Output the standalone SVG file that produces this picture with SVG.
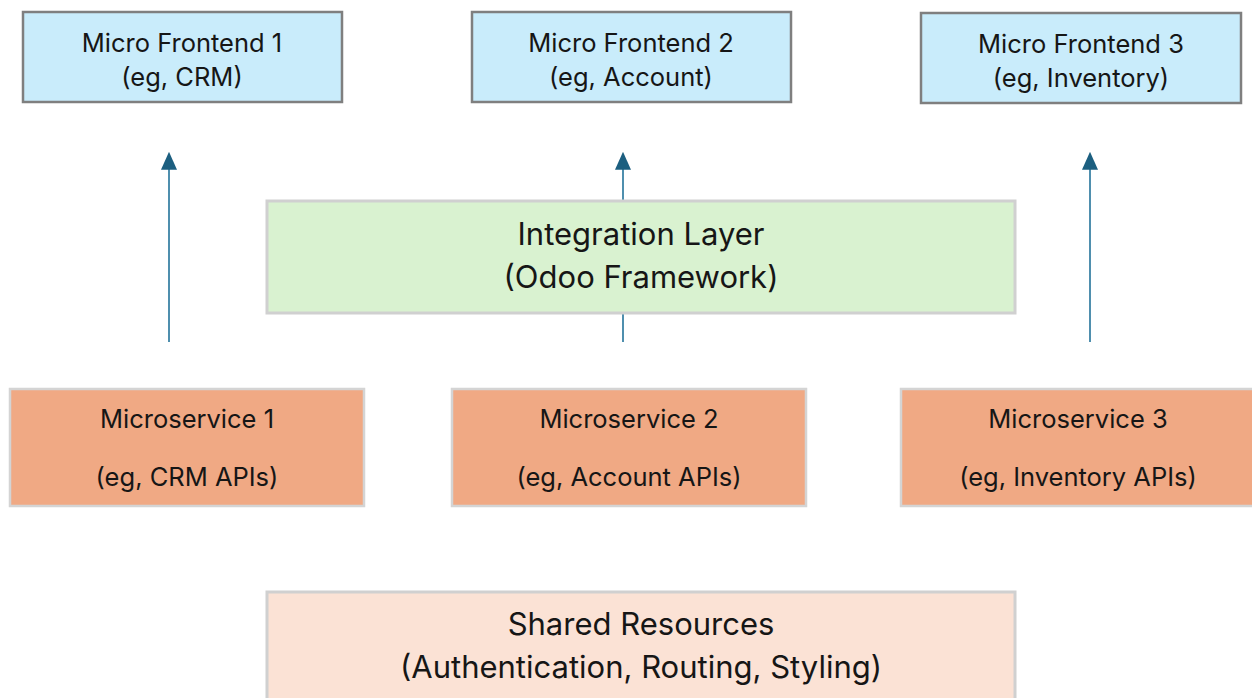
<svg xmlns="http://www.w3.org/2000/svg" width="1252" height="698" viewBox="0 0 1252 698">
<defs>
<marker id="ah" viewBox="0 0 10 10" refX="1" refY="5" markerWidth="18" markerHeight="16" markerUnits="userSpaceOnUse" orient="auto" preserveAspectRatio="none">
<path d="M0,0 L10,5 L0,10 Z" fill="#1c5f80"/>
</marker>
<style>
.fe{fill:#c9ecfb;stroke:#7f7f7f;stroke-width:2.5}
.ms{fill:#f0a984;stroke:#d4d4d4;stroke-width:2.5}
.il{fill:#d9f2d0;stroke:#d0d0d0;stroke-width:3}
.sr{fill:#fbe2d5;stroke:#d0d0d0;stroke-width:3}
.t{font-family:Inter,"Liberation Sans",sans-serif;fill:#161616;text-anchor:middle}
.s{font-size:25.5px}
.l{font-size:31px}
.c{stroke:#4f8fae;stroke-width:2;fill:none}
</style>
</defs>
<rect width="1252" height="698" fill="#fff"/>
<g id="connectors">
<line class="c" x1="169" y1="342" x2="169" y2="168" marker-end="url(#ah)"/>
<line class="c" x1="623" y1="342" x2="623" y2="168" marker-end="url(#ah)"/>
<line class="c" x1="1090" y1="342" x2="1090" y2="168" marker-end="url(#ah)"/>
</g>
<g id="fe1"><rect class="fe" x="23" y="12" width="319" height="90"/>
<text class="t s" x="182" y="52">Micro Frontend 1</text><text class="t s" x="182" y="86">(eg, CRM)</text></g>
<g id="fe2"><rect class="fe" x="472" y="12" width="319" height="90"/>
<text class="t s" x="631" y="52">Micro Frontend 2</text><text class="t s" x="631" y="86">(eg, Account)</text></g>
<g id="fe3"><rect class="fe" x="921" y="13" width="320" height="90"/>
<text class="t s" x="1081" y="53">Micro Frontend 3</text><text class="t s" x="1081" y="87">(eg, Inventory)</text></g>
<g id="integration"><rect class="il" x="267" y="201" width="748" height="112"/>
<text class="t l" x="641" y="245">Integration Layer</text><text class="t l" x="641" y="288">(Odoo Framework)</text></g>
<g id="ms1"><rect class="ms" x="10" y="389" width="354" height="117"/>
<text class="t s" x="187" y="428">Microservice 1</text><text class="t s" x="187" y="486">(eg, CRM APIs)</text></g>
<g id="ms2"><rect class="ms" x="452" y="389" width="354" height="117"/>
<text class="t s" x="629" y="428">Microservice 2</text><text class="t s" x="629" y="486">(eg, Account APIs)</text></g>
<g id="ms3"><rect class="ms" x="901" y="389" width="354" height="117"/>
<text class="t s" x="1078" y="428">Microservice 3</text><text class="t s" x="1078" y="486">(eg, Inventory APIs)</text></g>
<g id="shared"><rect class="sr" x="267" y="592" width="748" height="120"/>
<text class="t l" x="641" y="635">Shared Resources</text><text class="t l" x="641" y="678">(Authentication, Routing, Styling)</text></g>
</svg>
